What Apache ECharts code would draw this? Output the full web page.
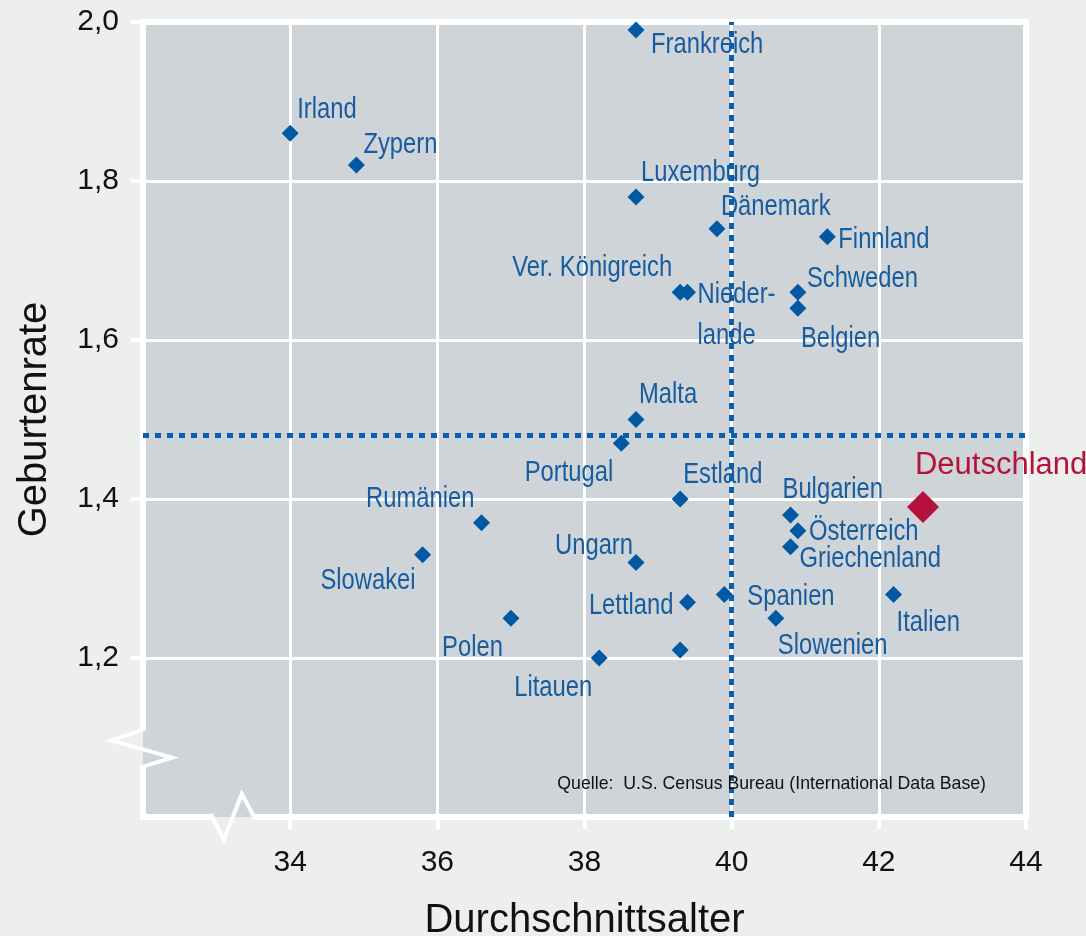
<!DOCTYPE html>
<html>
<head>
<meta charset="UTF-8"/>
<script src="https://cdn.jsdelivr.net/npm/echarts@6/dist/echarts.min.js"></script>
<style type="text/css">
	html, body { margin:0; padding:0; background:#edefee; }
	#chart { width:1086px; height:936px; }
</style>
</head>
<body>
<div id="chart"></div>
<script type="text/javascript">

// Daten: Durchschnittsalter / Geburtenrate je Land
var countries = ['Frankreich','Irland','Zypern','Luxemburg','Dänemark','Finnland','Ver. Königreich','Niederlande',
	'Schweden','Belgien','Malta','Portugal','Estland','Ungarn','Lettland','Spanien','Slowenien','',
	'Litauen','Rumänien','Slowakei','Polen','Bulgarien','Österreich','Griechenland','Italien'];
var medianAge = [38.7, 34.0, 34.9, 38.7, 39.8, 41.3, 39.3, 39.4,
	40.9, 40.9, 38.7, 38.5, 39.3, 38.7, 39.4, 39.9, 40.6, 39.3,
	38.2, 36.6, 35.8, 37.0, 40.8, 40.9, 40.8, 42.2];
var birthRate = [1.99, 1.86, 1.82, 1.78, 1.74, 1.73, 1.66, 1.66,
	1.66, 1.64, 1.50, 1.47, 1.40, 1.32, 1.27, 1.28, 1.25, 1.21,
	1.20, 1.37, 1.33, 1.25, 1.38, 1.36, 1.34, 1.28];
var germanyName = 'Deutschland';
var germanyAge = 42.6;
var germanyRate = 1.39;
var avgAge = 40;      // senkrechte Linie
var avgRate = 1.48;   // waagerechte Linie

// Beschriftung: [dx, dy, align] relativ zum Punkt
var labelPos = {
	'Frankreich':[15,12,'left'], 'Irland':[7,-27,'left'], 'Zypern':[7,-24,'left'],
	'Luxemburg':[5,-27,'left'], 'Dänemark':[4,-25,'left'], 'Finnland':[11,0,'left'],
	'Ver. Königreich':[-8,-28,'right'], 'Niederlande':[10,20,'left'], 'Schweden':[9,-17,'left'],
	'Belgien':[3,27,'left'], 'Malta':[3,-28,'left'], 'Portugal':[-8,26,'right'],
	'Estland':[3,-28,'left'], 'Ungarn':[-3,-20,'right'], 'Lettland':[-14,0,'right'],
	'Spanien':[23,-1,'left'], 'Slowenien':[2,24,'left'], 'Litauen':[-7,26,'right'],
	'Rumänien':[-7,-27,'right'], 'Slowakei':[-7,23,'right'], 'Polen':[-8,26,'right'],
	'Bulgarien':[-8,-28,'left'], 'Österreich':[11,-2,'left'], 'Griechenland':[9,9,'left'],
	'Italien':[3,25,'left']
};
var labelText = { 'Niederlande':'Nieder-\nlande' };

var BLUE = '#0059a2', LBLUE = '#175c9f', RED = '#b5123b', GRAY = '#cfd4d8', BG = '#edefee';
var SANS = "'Liberation Sans', Arial, sans-serif";

var points = [];
for (var i = 0; i < countries.length; i++) {
	points.push({ name: countries[i], value: [medianAge[i], birthRate[i]] });
}

var chart = echarts.init(document.getElementById('chart'));
var option = {
	backgroundColor: BG,
	animation: false,
	grid: {
		left: 143, right: 60, top: 22, bottom: 119, outerBoundsMode: 'none',
		show: true, backgroundColor: GRAY, borderColor: '#fff', borderWidth: 6
	},
	xAxis: {
		type: 'value', min: 32, max: 44, interval: 2,
		name: 'Durchschnittsalter', nameLocation: 'middle', nameGap: 84,
		nameTextStyle: { fontFamily: SANS, fontSize: 40, color: '#111' },
		axisLine: { show: true, lineStyle: { color: '#fff', width: 6 } },
		axisTick: { show: true, length: 12, lineStyle: { color: '#fff', width: 4 } },
		axisLabel: { showMinLabel: false, margin: 31, fontFamily: SANS, fontSize: 30, color: '#111' },
		splitLine: { show: true, lineStyle: { color: '#fff', width: 3 } }
	},
	yAxis: {
		type: 'value', min: 1, max: 2, interval: 0.2,
		name: 'Geburtenrate', nameLocation: 'middle', nameGap: 88,
		nameTextStyle: { fontFamily: SANS, fontSize: 40, color: '#111' },
		axisLine: { show: true, lineStyle: { color: '#fff', width: 6 } },
		axisTick: { show: true, length: 12, lineStyle: { color: '#fff', width: 4 } },
		axisLabel: {
			showMinLabel: false, margin: 24, fontFamily: SANS, fontSize: 30, color: '#111',
			formatter: function (v) { return v.toFixed(1).replace('.', ','); }
		},
		splitLine: { show: true, lineStyle: { color: '#fff', width: 3 } }
	},
	series: [
		{
			type: 'scatter', symbol: 'diamond', symbolSize: 17, z: 3,
			itemStyle: { color: BLUE, opacity: 1 },
			data: points
		},
		{
			type: 'scatter', symbol: 'diamond', symbolSize: 32, z: 3,
			itemStyle: { color: RED, opacity: 1 },
			label: {
				show: true, position: 'inside', align: 'left', verticalAlign: 'middle',
				offset: [-8, -41], formatter: '{b}',
				color: RED, fontFamily: SANS, fontSize: 31
			},
			data: [{ name: germanyName, value: [germanyAge, germanyRate] }]
		},
		{
			type: 'line', data: [], z: 6,
			markLine: {
				silent: true, symbol: ['none', 'none'], label: { show: false },
				lineStyle: { color: '#0a5fab', width: 5, type: [6, 6], cap: 'butt' },
				data: [{ xAxis: avgAge }, { yAxis: avgRate }]
			}
		}
	]
};
chart.setOption(option);

var gfx = [];

// Länderbeschriftungen (schmal gestaucht wie Arial Narrow)
for (var j = 0; j < countries.length; j++) {
	var lp = labelPos[countries[j]];
	if (!lp) continue;
	var px = chart.convertToPixel({ gridIndex: 0 }, [medianAge[j], birthRate[j]]);
	gfx.push({
		type: 'text', z: 4, x: px[0] + lp[0], y: px[1] + lp[1] + 3.5, scaleX: 0.82,
		style: {
			text: labelText[countries[j]] || countries[j],
			align: lp[2], verticalAlign: 'middle',
			fontFamily: SANS, fontSize: 29, lineHeight: 41, fill: LBLUE
		}
	});
}

// Quelle
gfx.push({
	type: 'text', z: 10, right: 100, top: 775,
	style: { text: 'Quelle:  U.S. Census Bureau (International Data Base)', fontFamily: SANS, fontSize: 17.7, fill: '#111' }
});

// Achsenunterbrechungen (Zickzack)
var breakAge = 33.22, breakRate = 1.086;
var yb = chart.convertToPixel({ gridIndex: 0 }, [32, breakRate]);
var xb = chart.convertToPixel({ gridIndex: 0 }, [breakAge, 1]);
var zz = { stroke: '#fff', lineWidth: 4, fill: null, lineJoin: 'miter' };
gfx.push(
	{ type: 'rect', z: 20, shape: { x: yb[0] - 4, y: yb[1] - 18, width: 4, height: 36 }, style: { fill: BG } },
	{ type: 'rect', z: 20, shape: { x: yb[0], y: yb[1] - 18, width: 4, height: 36 }, style: { fill: GRAY } },
	{ type: 'polyline', z: 21, shape: { points: [[yb[0], yb[1] - 19], [yb[0] - 31, yb[1] - 8], [yb[0] + 29, yb[1] + 9], [yb[0] - 3, yb[1] + 19]] }, style: zz },
	{ type: 'rect', z: 20, shape: { x: xb[0] - 21, y: xb[1] - 4, width: 42, height: 4 }, style: { fill: GRAY } },
	{ type: 'rect', z: 20, shape: { x: xb[0] - 21, y: xb[1], width: 42, height: 4 }, style: { fill: BG } },
	{ type: 'polyline', z: 21, shape: { points: [[xb[0] - 22, xb[1] - 3], [xb[0] - 9, xb[1] + 23], [xb[0] + 9, xb[1] - 23], [xb[0] + 22, xb[1] + 1]] }, style: zz }
);

chart.setOption({ graphic: gfx });
</script>
</body>
</html>
